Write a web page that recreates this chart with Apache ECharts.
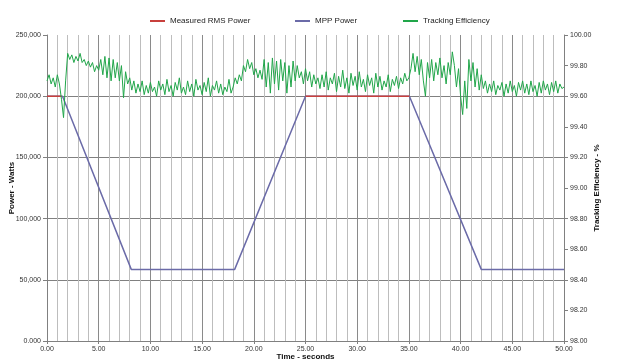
<!DOCTYPE html>
<html>
<head>
<meta charset="utf-8">
<script src="https://cdn.jsdelivr.net/npm/echarts@6/dist/echarts.min.js"></script>
<style>html,body{margin:0;padding:0;background:#fff}#c{width:641px;height:364px}</style>
</head>
<body>
<div id="c"></div>
<script>
// ---- data ----
var powerTickLabels = ['0.000', '50,000', '100,000', '150,000', '200,000', '250,000'];
// Measured RMS Power (visible portions) [time s, watts]
var rmsTimes  = [0, 1.4, null, 25.0, 35.05];
var rmsValues = [200000, 200000, null, 200000, 200000];
// MPP Power [time s, watts]
var mppTimes  = [0, 1.5, 8.15, 18.15, 25.0, 35.05, 42.0, 50.0];
var mppValues = [200000, 200000, 58500, 58500, 200000, 200000, 58500, 58500];
// Tracking efficiency, sampled every 0.2 s from 0 to 50 s (%)
var effStep = 0.2;
var effValues = [
  99.70,99.74,99.68,99.72,99.66,99.74,99.68,99.58,99.46,99.70,99.88,99.84,99.87,99.82,99.86,99.83,99.88,99.82,99.84,99.80,99.83,99.79,99.82,99.76,99.80,
  99.77,99.84,99.74,99.86,99.72,99.85,99.70,99.84,99.72,99.82,99.70,99.80,99.59,99.76,99.68,99.72,99.64,99.70,99.62,99.68,99.63,99.70,99.61,99.67,99.62,
  99.69,99.63,99.66,99.60,99.70,99.64,99.68,99.61,99.71,99.63,99.67,99.60,99.69,99.64,99.72,99.62,99.66,99.61,99.70,99.63,99.68,99.60,99.71,99.64,99.67,
  99.61,99.69,99.63,99.72,99.60,99.67,99.64,99.70,99.62,99.68,99.61,99.66,99.63,99.71,99.62,99.66,99.72,99.68,99.74,99.70,99.80,99.76,99.84,99.78,99.82,
  99.74,99.78,99.72,99.77,99.71,99.84,99.66,99.82,99.62,99.85,99.68,99.83,99.64,99.84,99.70,99.82,99.62,99.80,99.66,99.83,99.70,99.80,99.72,99.76,99.68,
  99.78,99.70,99.76,99.66,99.74,99.68,99.72,99.65,99.74,99.66,99.76,99.64,99.72,99.68,99.75,99.63,99.73,99.66,99.77,99.65,99.72,99.62,99.75,99.67,99.73,
  99.64,99.76,99.66,99.71,99.63,99.74,99.67,99.72,99.62,99.75,99.66,99.73,99.64,99.70,99.66,99.74,99.63,99.71,99.67,99.73,99.65,99.72,99.68,99.75,99.70,
  99.72,99.78,99.88,99.76,99.86,99.74,99.84,99.70,99.60,99.82,99.72,99.84,99.70,99.82,99.74,99.85,99.72,99.80,99.68,99.82,99.74,99.89,99.80,99.66,99.78,
  99.60,99.48,99.70,99.52,99.84,99.70,99.82,99.66,99.78,99.64,99.74,99.65,99.70,99.62,99.68,99.63,99.70,99.61,99.67,99.64,99.69,99.60,99.68,99.62,99.70,
  99.63,99.67,99.60,99.69,99.64,99.70,99.62,99.68,99.61,99.70,99.63,99.67,99.60,99.69,99.62,99.70,99.64,99.68,99.61,99.69,99.63,99.70,99.62,99.68,99.65,
  99.66
];

function pairs(xs, ys) {
  return xs.map(function (x, i) { return x === null ? [null, null] : [x, ys[i]]; });
}
var effData = effValues.map(function (v, i) { return [+(i * effStep).toFixed(2), v]; });

var FONT = 'Liberation Sans';
var RED = '#c8403c', BLUE = '#6b6ba8', GREEN = '#21a64a';
function legendAt(left, name) {
  return {
    left: left, top: 12, data: [name], icon: 'rect', itemWidth: 15, itemHeight: 2,
    textStyle: { fontFamily: FONT, fontSize: 8, color: '#222' }, selectedMode: false
  };
}

var chart = echarts.init(document.getElementById('c'), null, { renderer: 'canvas' });
chart.setOption({
  animation: false,
  backgroundColor: '#fff',
  legend: [
    legendAt(145, 'Measured RMS Power'),
    legendAt(290, 'MPP Power'),
    legendAt(398, 'Tracking Efficiency')
  ],
  grid: { left: 47, right: 77, top: 35, bottom: 23, containLabel: false, outerBoundsMode: 'none' },
  xAxis: {
    type: 'value', min: 0, max: 50, interval: 5,
    name: 'Time - seconds', nameLocation: 'middle', nameGap: 12, nameMoveOverlap: false,
    nameTextStyle: { fontFamily: FONT, fontSize: 8, fontWeight: 'bold', color: '#111' },
    axisLine: { lineStyle: { color: '#808080', width: 1 } },
    axisTick: { show: true, length: 3, lineStyle: { color: '#808080' } },
    axisLabel: { fontFamily: FONT, fontSize: 7, color: '#333', margin: 5,
      formatter: function (v) { return v.toFixed(2); } },
    splitLine: { show: true, lineStyle: { color: '#8a8a8a', width: 1 } },
    minorTick: { show: false, splitNumber: 5 },
    minorSplitLine: { show: true, lineStyle: { color: '#bdbdbd', width: 1 } }
  },
  yAxis: [
    {
      type: 'value', min: 0, max: 250000, interval: 50000, position: 'left',
      name: 'Power - Watts', nameLocation: 'middle', nameGap: 31, nameMoveOverlap: false,
      nameTextStyle: { fontFamily: FONT, fontSize: 8, fontWeight: 'bold', color: '#111' },
      axisLine: { show: true, lineStyle: { color: '#808080' } },
      axisTick: { show: true, length: 4, lineStyle: { color: '#808080' } },
      axisLabel: { fontFamily: FONT, fontSize: 7, color: '#333', margin: 6,
        formatter: function (v) { return powerTickLabels[Math.round(v / 50000)]; } },
      splitLine: { show: true, showMaxLine: false, lineStyle: { color: '#808080', width: 1 } }
    },
    {
      type: 'value', min: 98, max: 100, interval: 0.2, position: 'right',
      name: 'Tracking Efficiency - %', nameLocation: 'middle', nameGap: 29, nameRotate: 90, nameMoveOverlap: false,
      nameTextStyle: { fontFamily: FONT, fontSize: 8, fontWeight: 'bold', color: '#111' },
      axisLine: { show: true, lineStyle: { color: '#808080' } },
      axisTick: { show: true, length: 4, lineStyle: { color: '#808080' } },
      axisLabel: { fontFamily: FONT, fontSize: 7, color: '#333', margin: 6,
        formatter: function (v) { return v.toFixed(2); } },
      splitLine: { show: false }
    }
  ],
  series: [
    {
      name: 'MPP Power', type: 'line', yAxisIndex: 0, data: pairs(mppTimes, mppValues),
      symbol: 'none', z: 3, lineStyle: { color: BLUE, width: 1.5 }, itemStyle: { color: BLUE }
    },
    {
      name: 'Measured RMS Power', type: 'line', yAxisIndex: 0, data: pairs(rmsTimes, rmsValues),
      symbol: 'none', z: 4, connectNulls: false, lineStyle: { color: RED, width: 1.5 }, itemStyle: { color: RED }
    },
    {
      name: 'Tracking Efficiency', type: 'line', yAxisIndex: 1, data: effData,
      symbol: 'none', z: 5, lineStyle: { color: GREEN, width: 1 }, itemStyle: { color: GREEN }
    }
  ]
});
</script>
</body>
</html>
